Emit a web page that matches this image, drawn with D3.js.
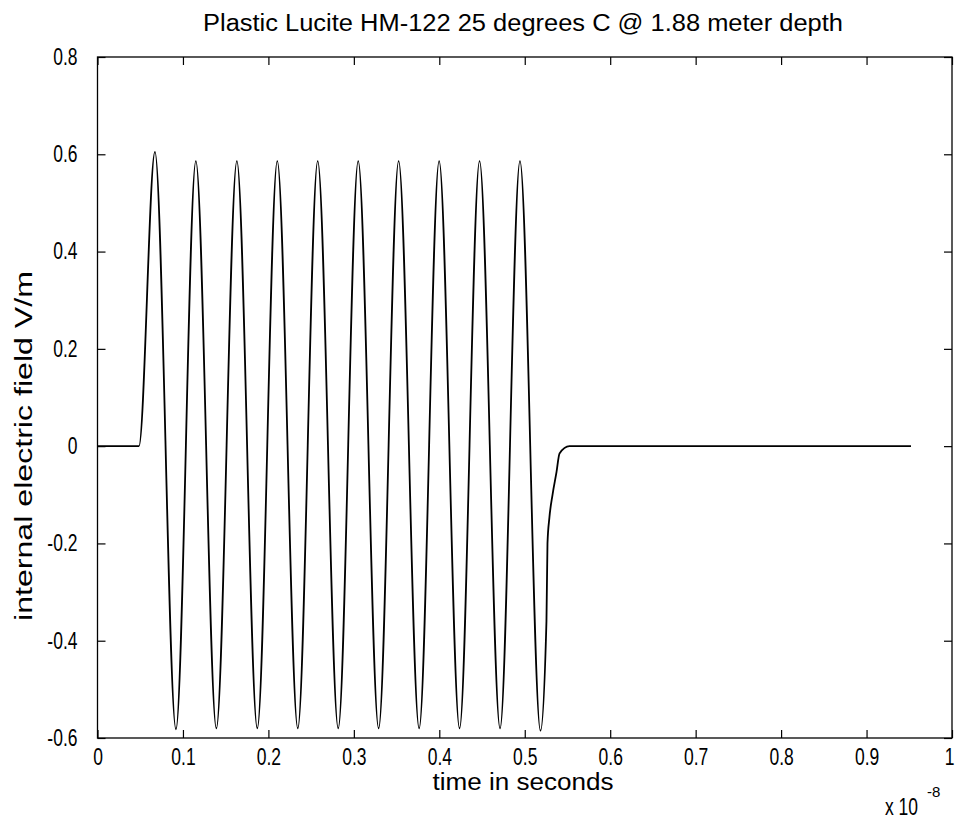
<!DOCTYPE html>
<html>
<head>
<meta charset="utf-8">
<script src="https://cdn.jsdelivr.net/npm/d3@7"></script>
<style>
  html, body { margin: 0; padding: 0; background: #fff; }
  svg { display: block; }
  text { font-family: "Liberation Sans", Arial, sans-serif; fill: #000; }
</style>
</head>
<body>
<svg id="chart" width="956" height="822"></svg>
<script>
// ---- data (time in units of 1e-8 s, field in V/m) ----
const titleText = "Plastic Lucite HM-122 25 degrees C @ 1.88 meter depth";
const xLabelText = "time in seconds";
const yLabelText = "internal electric field V/m";
const xTicks = [0, 0.1, 0.2, 0.3, 0.4, 0.5, 0.6, 0.7, 0.8, 0.9, 1];
const xTickLabels = ["0", "0.1", "0.2", "0.3", "0.4", "0.5", "0.6", "0.7", "0.8", "0.9", "1"];
const yTicks = [-0.6, -0.4, -0.2, 0, 0.2, 0.4, 0.6, 0.8];
const yTickLabels = ["-0.6", "-0.4", "-0.2", "0", "0.2", "0.4", "0.6", "0.8"];

const times = [
  0, 0.0485,
  0.0672, 0.0918,
  0.1151, 0.1391,
  0.1631, 0.1870,
  0.2104, 0.2344,
  0.2577, 0.2817,
  0.3051, 0.3290,
  0.3524, 0.3764,
  0.3998, 0.4237,
  0.4471, 0.4711,
  0.4944, 0.5184,
  0.5254, 0.5266, 0.5289, 0.5325, 0.5372, 0.5407, 0.5523, 0.952
];
const field = [
  0, 0,
  0.605, -0.582,
  0.586, -0.580,
  0.586, -0.580,
  0.586, -0.580,
  0.586, -0.580,
  0.586, -0.580,
  0.586, -0.580,
  0.586, -0.580,
  0.586, -0.580,
  0.586, -0.585,
  -0.36, -0.20, -0.146, -0.10, -0.053, -0.015, 0, 0
];

// ---- layout ----
const svg = d3.select("#chart");
const L = 97.5, R = 952, T = 57, B = 738;
const x = d3.scaleLinear().domain([0, 1]).range([L, R]);
const y = d3.scaleLinear().domain([-0.6, 0.8]).range([B, T]);
const tickLen = 8;
const squeeze = 0.76;

function condense(sel) {
  sel.each(function () {
    const len = this.getComputedTextLength();
    if (len > 0) {
      d3.select(this).attr("textLength", len * squeeze).attr("lengthAdjust", "spacingAndGlyphs");
    }
  });
}

// frame
svg.append("rect")
  .attr("x", L).attr("y", T).attr("width", R - L).attr("height", B - T)
  .attr("fill", "none").attr("stroke", "#000").attr("stroke-width", 1.3);

// axes (ticks inside)
const fmtX = (d, i) => xTickLabels[i];
const fmtY = (d, i) => yTickLabels[i];
const axB = svg.append("g").attr("transform", `translate(0,${B})`)
  .call(d3.axisBottom(x).tickValues(xTicks).tickFormat(fmtX).tickSizeInner(-tickLen).tickSizeOuter(0).tickPadding(11));
const axT = svg.append("g").attr("transform", `translate(0,${T})`)
  .call(d3.axisTop(x).tickValues(xTicks).tickFormat("").tickSizeInner(-tickLen).tickSizeOuter(0));
const axL = svg.append("g").attr("transform", `translate(${L},0)`)
  .call(d3.axisLeft(y).tickValues(yTicks).tickFormat(fmtY).tickSizeInner(-tickLen).tickSizeOuter(0).tickPadding(20));
const axR = svg.append("g").attr("transform", `translate(${R},0)`)
  .call(d3.axisRight(y).tickValues(yTicks).tickFormat("").tickSizeInner(-tickLen).tickSizeOuter(0));
[axB, axT, axL, axR].forEach(g => {
  g.select(".domain").remove();
  g.selectAll(".tick line").attr("stroke", "#000").attr("stroke-width", 1.2);
  g.selectAll("text").attr("font-size", 23).attr("fill", "#000")
    .style("font-family", '"Liberation Sans", Arial, sans-serif');
});
condense(axB.selectAll("text"));
condense(axL.selectAll("text"));
// keep the last x label inside the canvas
axB.selectAll(".tick text").filter((d, i) => i === xTicks.length - 1).attr("dx", "-3");

// waveform
const pts = times.map((t, i) => [t, field[i]]);
const line = d3.line().x(d => x(d[0])).y(d => y(d[1])).curve(d3.curveMonotoneX);
svg.append("path").datum(pts)
  .attr("d", line).attr("fill", "none").attr("stroke", "#000").attr("stroke-width", 1.8);

// title & labels
svg.append("text").attr("x", 523).attr("y", 31).attr("text-anchor", "middle")
  .attr("font-size", 23).attr("textLength", 640).attr("lengthAdjust", "spacingAndGlyphs").text(titleText);
svg.append("text").attr("x", 523).attr("y", 790).attr("text-anchor", "middle")
  .attr("font-size", 23).attr("textLength", 181).attr("lengthAdjust", "spacingAndGlyphs").text(xLabelText);
svg.append("text").attr("transform", `translate(32,446) rotate(-90)`).attr("text-anchor", "middle")
  .attr("font-size", 23).attr("textLength", 350).attr("lengthAdjust", "spacingAndGlyphs").text(yLabelText);

// exponent note
const expMain = svg.append("text").attr("x", 885).attr("y", 815).attr("font-size", 23).text("x 10");
condense(expMain);
svg.append("text").attr("x", 927).attr("y", 797).attr("font-size", 15).text("-8");
</script>
</body>
</html>
